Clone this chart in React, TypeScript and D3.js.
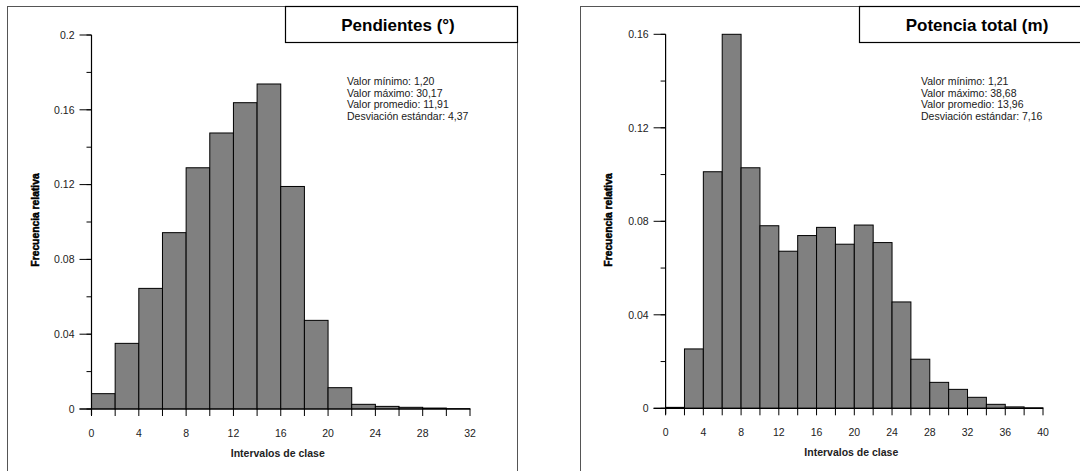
import React from "react";
import * as d3 from "d3";

const pendBins = [0, 2, 4, 6, 8, 10, 12, 14, 16, 18, 20, 22, 24, 26, 28, 30];
const pendValues = [0.0082, 0.0351, 0.0645, 0.0943, 0.129, 0.1476, 0.1638, 0.1738, 0.119, 0.0474, 0.0114, 0.0025, 0.0014, 0.0009, 0.0005, 0.0002];
const pendStats = ["Valor mínimo: 1,20", "Valor máximo: 30,17", "Valor promedio: 11,91", "Desviación estándar: 4,37"];
const pendYTicks = [0, 0.04, 0.08, 0.12, 0.16, 0.2];
const pendYTickLabels = ["0", "0.04", "0.08", "0.12", "0.16", "0.2"];
const pendXTicks = [0, 4, 8, 12, 16, 20, 24, 28, 32];

const potBins = [0, 2, 4, 6, 8, 10, 12, 14, 16, 18, 20, 22, 24, 26, 28, 30, 32, 34, 36, 38];
const potValues = [0.0004, 0.0254, 0.1012, 0.16, 0.1029, 0.0781, 0.0672, 0.0739, 0.0774, 0.0702, 0.0784, 0.0709, 0.0455, 0.021, 0.0111, 0.0081, 0.0047, 0.0017, 0.0006, 0.0002];
const potStats = ["Valor mínimo: 1,21", "Valor máximo: 38,68", "Valor promedio: 13,96", "Desviación estándar: 7,16"];
const potYTicks = [0, 0.04, 0.08, 0.12, 0.16];
const potYTickLabels = ["0", "0.04", "0.08", "0.12", "0.16"];
const potXTicks = [0, 4, 8, 12, 16, 20, 24, 28, 32, 36, 40];

const FONT = "'Liberation Sans', Arial, Helvetica, sans-serif";

type PanelProps = {
  frameX: number;
  frameW: number;
  titleBoxX: number;
  titleBoxW: number;
  titleCx: number;
  title: string;
  ax0: number;
  ax1: number;
  ay0: number;
  ay1: number;
  xMax: number;
  yMax: number;
  bins: number[];
  values: number[];
  binW: number;
  stats: string[];
  statsX: number;
  yLabelX: number;
  yTicks: number[];
  yTickLabels: string[];
  xTicks: number[];
};

function Panel(p: PanelProps) {
  const x = d3.scaleLinear().domain([0, p.xMax]).range([p.ax0, p.ax1]);
  const y = d3.scaleLinear().domain([0, p.yMax]).range([p.ay0, p.ay1]);
  const minor = d3.range(0, p.yMax + 1e-9, 0.02);
  const edges = d3.range(0, p.xMax + 1e-9, p.binW);
  return (
    <g>
      <rect x={p.frameX + 0.5} y={6.5} width={p.frameW} height={500} fill="none" stroke="#555" strokeWidth={1} />
      <rect x={p.titleBoxX + 0.5} y={6.5} width={p.titleBoxW} height={36} fill="#fff" stroke="#000" strokeWidth={1.2} />
      <text x={p.titleCx} y={31} textAnchor="middle" fontFamily={FONT} fontWeight="bold" fontSize={17}>{p.title}</text>
      {p.bins.map((b, i) => (
        <rect key={i} x={x(b)} y={y(p.values[i])} width={x(b + p.binW) - x(b)} height={y(0) - y(p.values[i])} fill="#808080" stroke="#000" strokeWidth={1} />
      ))}
      <line x1={p.ax0} x2={p.ax0} y1={y(p.yMax)} y2={p.ay0 + 6} stroke="#000" strokeWidth={1.2} />
      {minor.map((t, i) => (
        <line key={"m" + i} x1={p.ax0 - 5} x2={p.ax0} y1={y(t)} y2={y(t)} stroke="#000" strokeWidth={1} />
      ))}
      {p.yTicks.map((t, i) => (
        <g key={"y" + i}>
          <line x1={p.ax0 - 12} x2={p.ax0} y1={y(t)} y2={y(t)} stroke="#000" strokeWidth={1} />
          <text x={p.ax0 - 17} y={y(t) + 3.8} textAnchor="end" fontFamily={FONT} fontSize={10.5} fill="#222">{p.yTickLabels[i]}</text>
        </g>
      ))}
      <line x1={p.ax0 - 12} x2={x(p.xMax)} y1={p.ay0} y2={p.ay0} stroke="#000" strokeWidth={1.2} />
      {edges.map((t, i) => (
        <line key={"e" + i} x1={x(t)} x2={x(t)} y1={p.ay0} y2={p.ay0 + 7} stroke="#000" strokeWidth={1} />
      ))}
      {p.xTicks.map((t, i) => (
        <text key={"x" + i} x={x(t)} y={p.ay0 + 28} textAnchor="middle" fontFamily={FONT} fontSize={10.5} fill="#222">{t}</text>
      ))}
      <text x={(p.ax0 + p.ax1) / 2 - 3} y={p.ay0 + 48} textAnchor="middle" fontFamily={FONT} fontWeight="bold" fontSize={10.5} fill="#222">Intervalos de clase</text>
      <text transform={`translate(${p.yLabelX},220) rotate(-90)`} dy={3.5} textAnchor="middle" fontFamily={FONT} fontWeight="bold" fontSize={10.3} stroke="#000" strokeWidth={0.5}>Frecuencia relativa</text>
      {p.stats.map((s, i) => (
        <text key={"s" + i} x={p.statsX} y={85 + i * 11.7} fontFamily={FONT} fontSize={10.5} fill="#1a1a1a">{s}</text>
      ))}
    </g>
  );
}

export default function App() {
  return (
    <svg width={1080} height={471} style={{ position: "absolute", left: 0, top: 0, background: "#fff" }}>
      <rect width={1080} height={471} fill="#fff" />
      <Panel frameX={7} frameW={510} titleBoxX={285} titleBoxW={232} titleCx={398} title="Pendientes (°)"
        ax0={91.5} ax1={470} ay0={409} ay1={35} xMax={32} yMax={0.2} bins={pendBins} values={pendValues} binW={2}
        stats={pendStats} statsX={347} yLabelX={35} yTicks={pendYTicks} yTickLabels={pendYTickLabels} xTicks={pendXTicks} />
      <Panel frameX={580} frameW={520} titleBoxX={859} titleBoxW={260} titleCx={977} title="Potencia total (m)"
        ax0={665.6} ax1={1043} ay0={408.3} ay1={34.3} xMax={40} yMax={0.16} bins={potBins} values={potValues} binW={2}
        stats={potStats} statsX={921} yLabelX={608} yTicks={potYTicks} yTickLabels={potYTickLabels} xTicks={potXTicks} />
    </svg>
  );
}
